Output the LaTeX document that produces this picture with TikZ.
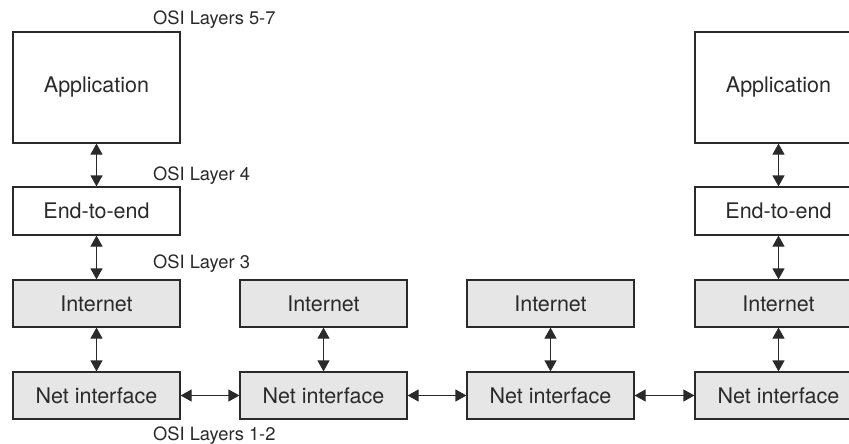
\documentclass[tikz,border=0pt]{standalone}
\usepackage{fontspec}
\setmainfont{TeX Gyre Heros}
\usetikzlibrary{arrows.meta}
\definecolor{boxfill}{HTML}{E6E6E6}
\definecolor{ink}{HTML}{2A2A2A}
\tikzset{
  box/.style={draw=ink, line width=1.2pt, inner sep=0pt, minimum width=167pt, text=ink,
    font=\fontsize{21.5}{24}\selectfont},
  gbox/.style={box, fill=boxfill},
  lbl/.style={anchor=base west, inner sep=0pt, text=ink, font=\fontsize{18.3}{21}\selectfont},
  arr/.style={draw=ink, line width=1.2pt, {Triangle[length=11pt,width=12pt]}-{Triangle[length=11pt,width=12pt]}}
}
\begin{document}
\begin{tikzpicture}[x=1pt,y=-1pt]
\useasboundingbox (0,0) rectangle (849,444);
% left column
\node[box, minimum height=111pt] (app1) at (96.5,87.5) {Application};
\node[box, minimum height=48pt] (e2e1) at (96.5,211) {End-to-end};
\node[gbox, minimum height=47pt] (inet1) at (96.5,303.5) {Internet};
\node[gbox, minimum height=47pt] (net1) at (96.5,395.5) {Net interface};
% column 2
\node[gbox, minimum height=47pt] (inet2) at (323.5,303.5) {Internet};
\node[gbox, minimum height=47pt] (net2) at (323.5,395.5) {Net interface};
% column 3
\node[gbox, minimum height=47pt] (inet3) at (550.5,303.5) {Internet};
\node[gbox, minimum height=47pt] (net3) at (550.5,395.5) {Net interface};
% right column
\node[box, minimum height=111pt] (app4) at (778.5,87.5) {Application};
\node[box, minimum height=48pt] (e2e4) at (778.5,211) {End-to-end};
\node[gbox, minimum height=47pt] (inet4) at (778.5,303.5) {Internet};
\node[gbox, minimum height=47pt] (net4) at (778.5,395.5) {Net interface};
% labels
\node[lbl] (l57) at (153,25) {OSI Layers 5-7};
\node[lbl] (l4) at (153,180) {OSI Layer 4};
\node[lbl] (l3) at (153,268) {OSI Layer 3};
\node[lbl] (l12) at (153,440) {OSI Layers 1-2};
% vertical arrows
\draw[arr] (app1.south) -- (e2e1.north);
\draw[arr] (e2e1.south) -- (inet1.north);
\draw[arr] (inet1.south) -- (net1.north);
\draw[arr] (inet2.south) -- (net2.north);
\draw[arr] (inet3.south) -- (net3.north);
\draw[arr] (app4.south) -- (e2e4.north);
\draw[arr] (e2e4.south) -- (inet4.north);
\draw[arr] (inet4.south) -- (net4.north);
% horizontal arrows
\draw[arr] (net1.east) -- (net2.west);
\draw[arr] (net2.east) -- (net3.west);
\draw[arr] (net3.east) -- (net4.west);
\end{tikzpicture}
\end{document}
